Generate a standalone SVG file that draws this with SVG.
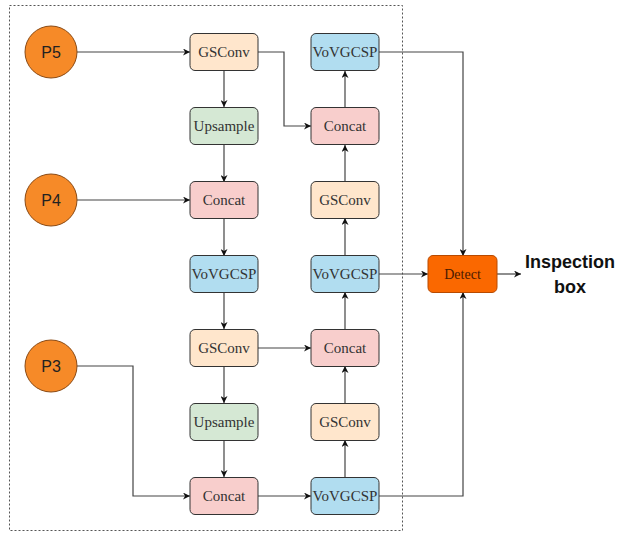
<svg xmlns="http://www.w3.org/2000/svg" width="619" height="533" viewBox="0 0 619 533">
<defs>
<marker id="ah" viewBox="0 0 10 10" refX="10" refY="5" markerWidth="7" markerHeight="7" orient="auto" markerUnits="userSpaceOnUse">
<path d="M0,0 L10,5 L0,10 L3,5 Z" fill="#111"/>
</marker>
<style>
.c{fill:#F68A28;stroke:#8A4A14;stroke-width:1}
.b{stroke:#333;stroke-width:1}
.gs{fill:#FFE6CC}.up{fill:#D5E8D4}.cc{fill:#F8CECC}.vo{fill:#B1DDF0}.dt{fill:#FA6800;stroke:#B84A00}
.t{font-family:"Liberation Serif",serif;font-size:15px;fill:#333;text-anchor:middle;dominant-baseline:central}
.p{font-family:"Liberation Sans",sans-serif;font-size:16px;fill:#222;text-anchor:middle;dominant-baseline:central}
.l{fill:none;stroke:#444;stroke-width:1.2}
.a{marker-end:url(#ah)}
</style>
</defs>
<rect x="9.5" y="5.5" width="393" height="525" fill="none" stroke="#555" stroke-width="1" stroke-dasharray="2,2"/>
<g id="connectors">
<path class="l a" d="M77,52 H190"/>
<path class="l a" d="M258,52 H284 V126 H311"/>
<path class="l a" d="M224,71 V107"/>
<path class="l a" d="M224,145 V182"/>
<path class="l a" d="M77,200 H190"/>
<path class="l a" d="M224,218 V256"/>
<path class="l a" d="M224,292 V329"/>
<path class="l a" d="M258,348 H311"/>
<path class="l a" d="M224,366 V403"/>
<path class="l a" d="M224,440 V477"/>
<path class="l a" d="M77,366 H133 V496 H190"/>
<path class="l a" d="M258,496 H311"/>
<path class="l a" d="M345,477 V440"/>
<path class="l a" d="M345,403 V366"/>
<path class="l a" d="M345,329 V292"/>
<path class="l a" d="M345,256 V218"/>
<path class="l a" d="M345,182 V145"/>
<path class="l a" d="M345,107 V71"/>
<path class="l a" d="M379,52 H463 V256"/>
<path class="l a" d="M379,274 H428"/>
<path class="l a" d="M379,496 H463 V292"/>
<path class="l a" d="M497,274 H521"/>
</g>
<g id="P5"><circle class="c" cx="51" cy="52" r="26"/><text class="p" x="51" y="52">P5</text></g>
<g id="P4"><circle class="c" cx="51" cy="200" r="26"/><text class="p" x="51" y="200">P4</text></g>
<g id="P3"><circle class="c" cx="51" cy="366" r="26"/><text class="p" x="51" y="366">P3</text></g>
<g id="L1"><rect class="b gs" x="190" y="33.5" width="68" height="37" rx="5"/><text class="t" x="224" y="52">GSConv</text></g>
<g id="L2"><rect class="b up" x="190" y="107.5" width="68" height="37" rx="5"/><text class="t" x="224" y="126">Upsample</text></g>
<g id="L3"><rect class="b cc" x="190" y="181.5" width="68" height="37" rx="5"/><text class="t" x="224" y="200">Concat</text></g>
<g id="L4"><rect class="b vo" x="190" y="255.5" width="68" height="37" rx="5"/><text class="t" x="224" y="274">VoVGCSP</text></g>
<g id="L5"><rect class="b gs" x="190" y="329.5" width="68" height="37" rx="5"/><text class="t" x="224" y="348">GSConv</text></g>
<g id="L6"><rect class="b up" x="190" y="403.5" width="68" height="37" rx="5"/><text class="t" x="224" y="422">Upsample</text></g>
<g id="L7"><rect class="b cc" x="190" y="477.5" width="68" height="37" rx="5"/><text class="t" x="224" y="496">Concat</text></g>
<g id="R1"><rect class="b vo" x="311" y="33.5" width="68" height="37" rx="5"/><text class="t" x="345" y="52">VoVGCSP</text></g>
<g id="R2"><rect class="b cc" x="311" y="107.5" width="68" height="37" rx="5"/><text class="t" x="345" y="126">Concat</text></g>
<g id="R3"><rect class="b gs" x="311" y="181.5" width="68" height="37" rx="5"/><text class="t" x="345" y="200">GSConv</text></g>
<g id="R4"><rect class="b vo" x="311" y="255.5" width="68" height="37" rx="5"/><text class="t" x="345" y="274">VoVGCSP</text></g>
<g id="R5"><rect class="b cc" x="311" y="329.5" width="68" height="37" rx="5"/><text class="t" x="345" y="348">Concat</text></g>
<g id="R6"><rect class="b gs" x="311" y="403.5" width="68" height="37" rx="5"/><text class="t" x="345" y="422">GSConv</text></g>
<g id="R7"><rect class="b vo" x="311" y="477.5" width="68" height="37" rx="5"/><text class="t" x="345" y="496">VoVGCSP</text></g>
<g id="Detect"><rect class="b dt" x="428" y="255.5" width="69" height="37" rx="5"/><text class="t" x="462.5" y="274" style="font-size:14px;fill:#4a1a00">Detect</text></g>
<g id="Output"><text font-family="Liberation Sans,sans-serif" font-size="18" font-weight="bold" fill="#111" text-anchor="middle"><tspan x="570" y="268">Inspection</tspan><tspan x="570" y="293">box</tspan></text></g>
</svg>
